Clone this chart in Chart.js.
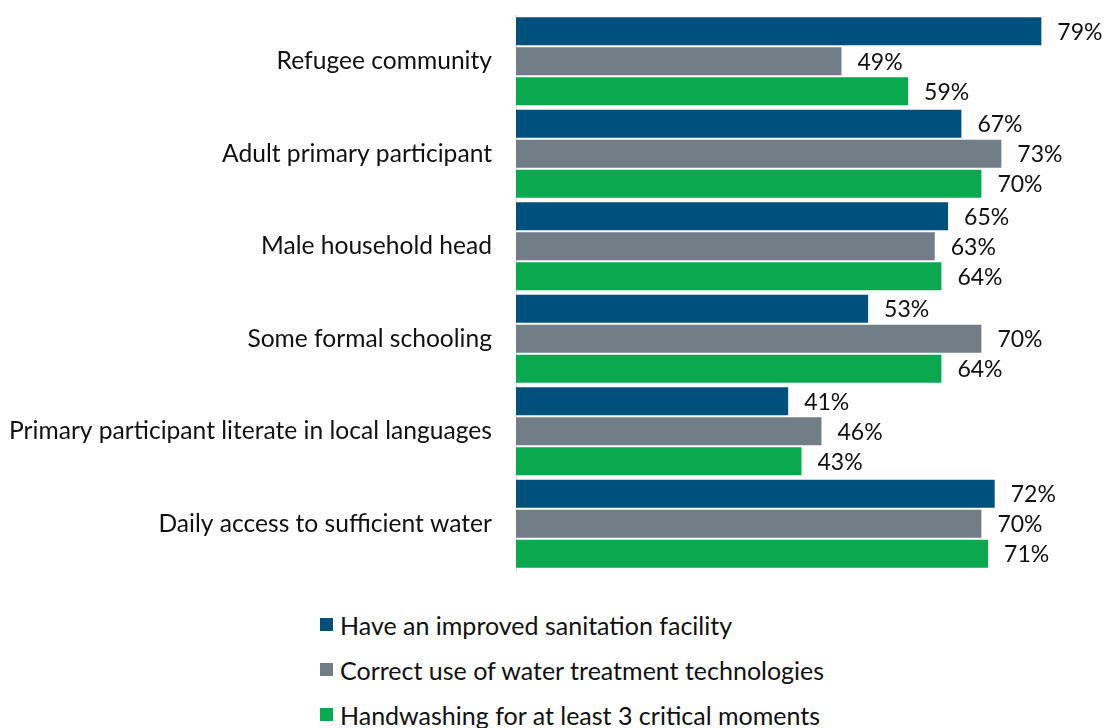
<!DOCTYPE html>
<html>
<head>
<meta charset="utf-8">
<script src="https://cdn.jsdelivr.net/npm/chart.js@4"></script>
<style>
  body { margin: 0; background: #fff; overflow: hidden; }
  #wrap { position: relative; width: 1104px; height: 580px; }
  #legend { position: absolute; left: 320px; top: 602px; font-family: Lato, sans-serif; font-size: 25px; color: #111; }
  #legend div { height: 45px; display: flex; align-items: center; }
  #legend span.box { display: inline-block; width: 13px; height: 13px; margin-right: 7px; }
</style>
</head>
<body>
<div id="wrap"><canvas id="chart"></canvas></div>
<div id="legend"></div>
<script>
// groups down the left side
var groups = [
    "Refugee community",
    "Adult primary participant",
    "Male household head",
    "Some formal schooling",
    "Primary participant literate in local languages",
    "Daily access to sufficient water"
];
// series names
var seriesNames = [
    "Have an improved sanitation facility",
    "Correct use of water treatment technologies",
    "Handwashing for at least 3 critical moments"
];
// percentages per series, in group order
var sanitation = [79, 67, 65, 53, 41, 72];
var waterTreatment = [49, 73, 63, 70, 46, 70];
var handwashing = [59, 70, 64, 64, 43, 71];

var colors = ["#00507e", "#717e87", "#0aa84f"];
var font = "Lato, sans-serif";

// writes the value next to the end of each bar
var valueLabels = {
    id: "valueLabels",
    afterDatasetsDraw: function(chart){
        var ctx = chart.ctx;
        ctx.save();
        ctx.font = "23px " + font;
        ctx.fillStyle = "#111";
        ctx.textBaseline = "middle";
        ctx.textAlign = "left";
        chart.data.datasets.forEach(function(ds, i){
            chart.getDatasetMeta(i).data.forEach(function(bar, j){
                ctx.fillText(ds.data[j] + "%", bar.x + 15, bar.y + 1);
            });
        });
        ctx.restore();
    }
};

var allData = [sanitation, waterTreatment, handwashing];
var datasets = [];
for (var i = 0; i < seriesNames.length; i++){
    datasets.push({
        label: seriesNames[i],
        data: allData[i],
        backgroundColor: colors[i],
        borderColor: "rgba(255,255,255,0.35)",
        borderWidth: 1,
        barPercentage: 1,
        categoryPercentage: 0.975
    });
}

var chart = new Chart("chart", {
    type: "bar",
    data: { labels: groups, datasets: datasets },
    plugins: [valueLabels],
    options: {
        indexAxis: "y",
        responsive: true,
        maintainAspectRatio: false,
        animation: false,
        layout: { padding: { top: 15, right: 55, bottom: 10, left: 0 } },
        plugins: {
            legend: { display: false },
            tooltip: { enabled: false }
        },
        scales: {
            x: { display: false, min: 0, max: 80 },
            y: {
                grid: { display: false },
                border: { display: true, color: "#d9d9d9", width: 1 },
                ticks: { color: "#111", font: { family: font, size: 24.6 }, padding: 16 },
                // fixed label column, no extra half-label padding at the ends
                afterFit: function(scale){
                    scale.width = 516;
                    scale.paddingTop = 0;
                    scale.paddingBottom = 0;
                }
            }
        }
    }
});

// legend, one entry per line
var legend = document.getElementById("legend");
seriesNames.forEach(function(name, i){
    var row = document.createElement("div");
    row.innerHTML = '<span class="box" style="background:' + colors[i] + '"></span>' + name;
    legend.appendChild(row);
});
</script>
</body>
</html>
